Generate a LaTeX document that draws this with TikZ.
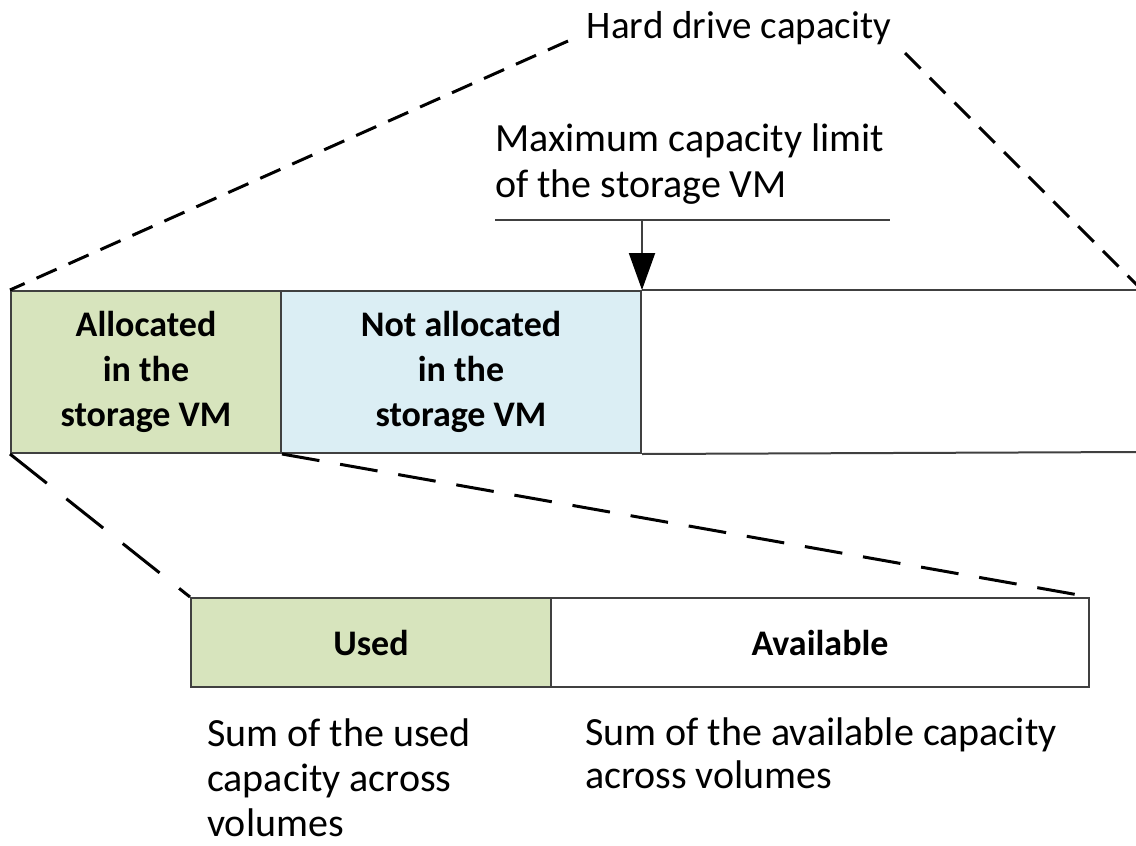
\documentclass[tikz,border=0pt]{standalone}
\usepackage{fontspec}
\setmainfont{Carlito}
\usetikzlibrary{arrows.meta}

\definecolor{allocgreen}{HTML}{D7E4BD}
\definecolor{freeblue}{HTML}{DBEEF4}
\definecolor{edgegrey}{HTML}{404040}

\begin{document}
\begin{tikzpicture}[x=1pt,y=-1pt,
    bar/.style={draw=edgegrey, line width=2pt, inner sep=0pt, anchor=north west,
        align=center, font=\fontsize{36}{45}\selectfont\bfseries},
    zoomline/.style={line width=3pt, dash pattern=on 22pt off 13pt},
    note/.style={inner sep=0pt, anchor=base west, align=left,
        font=\fontsize{40}{46}\selectfont}]
    \useasboundingbox (0,0) rectangle (1136,846);

    % capacity bar of the drive
    \node[bar, fill=allocgreen, minimum width=270, minimum height=162] (alloc) at (10,290)
        {Allocated\\in the\\storage VM};
    \node[bar, fill=freeblue, minimum width=360, minimum height=162] (notalloc) at (280,290)
        {Not allocated\\in the\\storage VM};
    \coordinate (bartop) at (1142,290);
    \coordinate (barbot) at (1142,452);
    \draw[edgegrey, line width=2pt] (notalloc.north east) -- (bartop);
    \draw[edgegrey, line width=2pt] (notalloc.south east) -- (barbot);

    % zoomed bar of the volumes
    \node[bar, fill=allocgreen, minimum width=360, minimum height=89] (used) at (190,597) {Used};
    \node[bar, fill=white, minimum width=538, minimum height=89] (avail) at (550,597) {Available};

    % labels (base = last line)
    \node[inner sep=0pt, anchor=base, font=\fontsize{39}{45}\selectfont] (hdd) at (739,38)
        {Hard drive capacity};
    \coordinate (hddL) at (568,41);
    \coordinate (hddR) at (905,53);
    \node[note] (maxcap) at (495,197) {Maximum capacity limit\\of the storage VM};
    \coordinate (limL) at (495,220);
    \coordinate (limR) at (890,220);
    \node[note, font=\fontsize{40}{45}\selectfont] (usednote) at (207,836)
        {Sum of the used\\capacity across\\volumes};
    \node[note, font=\fontsize{40}{43}\selectfont] (availnote) at (585,788)
        {Sum of the available capacity\\across volumes};

    % limit marker
    \draw[edgegrey, line width=2pt] (limL) -- (limR);
    \draw[edgegrey, line width=2pt, -{Triangle[length=37pt,width=26pt,color=black]}]
        (notalloc.north east |- limL) -- (notalloc.north east);

    % zoom lines
    \draw[zoomline] (hddL) -- (alloc.north west);
    \draw[zoomline] (hddR) -- (bartop);
    \draw[zoomline, dash pattern=on 47pt off 25pt] (alloc.south west) -- (used.north west);
    \draw[zoomline, dash pattern=on 38pt off 21pt] (alloc.south east) -- (avail.north east);
\end{tikzpicture}
\end{document}
